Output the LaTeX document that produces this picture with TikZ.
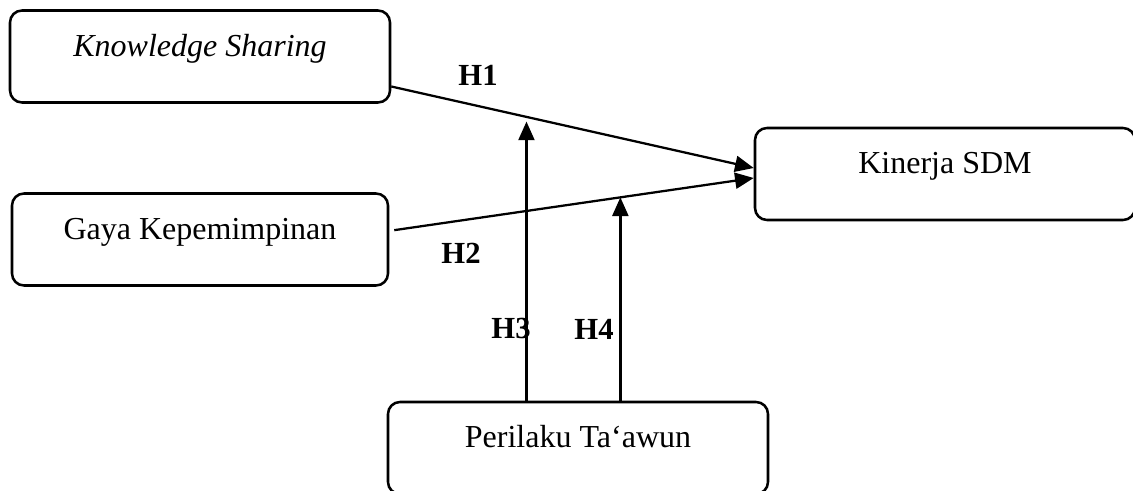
\documentclass[tikz,border=0pt]{standalone}
\usepackage{fontspec}
\setmainfont{Liberation Serif}
\usetikzlibrary{arrows.meta,calc}
\tikzset{
  varbox/.style={draw, line width=1.9pt, rounded corners=9pt, inner sep=0pt,
    minimum width=285pt, text height=34.5pt, text depth=34.5pt, font=\fontsize{24}{28}\selectfont},
  path/.style={line width=1.7pt, -{Triangle[length=14pt,width=12pt]}},
  hlabel/.style={font=\fontsize{23}{27}\selectfont\bfseries}
}
\begin{document}
\begin{tikzpicture}[x=0.75pt, y=-0.75pt]
                    \clip (0,0) rectangle (1133,491);
                    \node[varbox] (ks) at (200,56.5) {\textit{Knowledge Sharing}};
                    \node[varbox, minimum width=282pt] (gk) at (200,239.5) {Gaya Kepemimpinan};
                    \node[varbox] (kin) at (945,174) {Kinerja SDM};
                    \node[varbox] (pt) at (578,448) {Perilaku Ta`awun};
                    % main effects
                    \coordinate (h1s) at ([yshift=-22.5pt]ks.east);
                    \coordinate (h1e) at ([yshift=4.5pt]kin.west);
                    \coordinate (h2s) at ([xshift=3.75pt, yshift=7pt]gk.east);
                    \coordinate (h2e) at ([yshift=-3pt]kin.west);
                    \draw[path] (h1s) -- (h1e);
                    \draw[path] (h2s) -- (h2e);
                    % moderation
                    \coordinate (m3) at ($(h1s)!0.373!(h1e)$);
                    \coordinate (m4) at ($(h2s)!0.629!(h2e)$);
                    \draw[path, shorten >=3.5pt] (pt.north -| m3) -- (m3);
                    \draw[path] (pt.north -| m4) -- (m4);
                    \node[hlabel] (l1) at (478,75) {H1};
                    \node[hlabel] (l2) at (461,253) {H2};
                    \node[hlabel] (l3) at (511,329) {H3};
                    \node[hlabel] (l4) at (594,329) {H4};
\end{tikzpicture}
\end{document}
